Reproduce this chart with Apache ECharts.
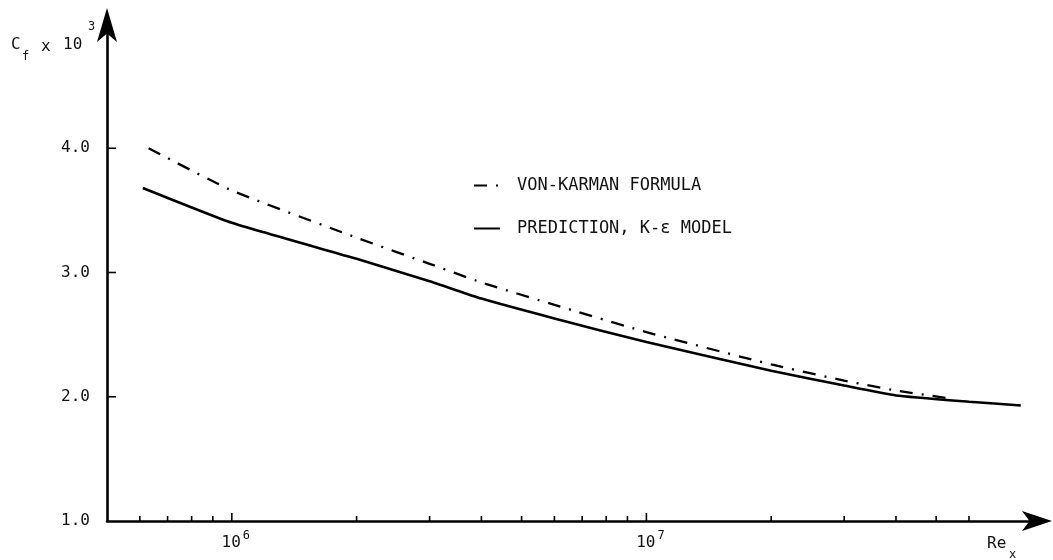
<!DOCTYPE html>
<html>
<head>
<meta charset="utf-8">
<script src="https://cdn.jsdelivr.net/npm/echarts@6/dist/echarts.min.js"></script>
<style>
html,body{margin:0;padding:0;background:#fff;}
#chart{width:1053px;height:560px;}
</style>
</head>
<body>
<div id="chart"></div>
<script>
// ---- data ----
const seriesNames = ['VON-KARMAN FORMULA', 'PREDICTION, K-\u03b5 MODEL'];
const reVonKarman = [6.3e5, 1e6, 2e6, 3e6, 4e6, 6e6, 1e7, 2e7, 3e7, 4e7, 5.3e7];
const cfVonKarman = [4.00, 3.66, 3.28, 3.07, 2.92, 2.74, 2.52, 2.26, 2.13, 2.05, 1.99];
const rePrediction = [6.1e5, 1e6, 2e6, 3e6, 4e6, 6e6, 1e7, 2e7, 3e7, 4e7, 6e7, 8e7];
const cfPrediction = [3.68, 3.40, 3.11, 2.93, 2.79, 2.63, 2.44, 2.21, 2.09, 2.01, 1.96, 1.93];
const xMajorTicks = [1e6, 1e7];
const xMinorTicks = [6e5, 7e5, 8e5, 9e5, 2e6, 3e6, 4e6, 5e6, 6e6, 7e6, 8e6, 9e6, 2e7, 3e7, 4e7, 5e7, 6e7];
const yTicks = [2.0, 3.0, 4.0];
const yLabelValues = [1.0, 2.0, 3.0, 4.0];
const xMin = 5e5, xMax = 9e7, yMin = 1, yMax = 5;

const FONT = 'DejaVu Sans Mono';
const INK = '#111';

const chart = echarts.init(document.getElementById('chart'));

function tickSeries(values, len, vertical) {
  return {
    type: 'custom',
    silent: true,
    clip: false,
    z: 5,
    data: values.map(v => [v]),
    renderItem: function (params, api) {
      const v = api.value(0);
      if (vertical) {
        const p = api.coord([v, yMin]);
        return {type: 'line', shape: {x1: p[0], y1: p[1], x2: p[0], y2: p[1] - len},
                style: {stroke: '#000', lineWidth: 1.6}};
      } else {
        const p = api.coord([xMin, v]);
        return {type: 'line', shape: {x1: p[0], y1: p[1], x2: p[0] + len, y2: p[1]},
                style: {stroke: '#000', lineWidth: 1.6}};
      }
    }
  };
}

const option = {
  backgroundColor: '#fff',
  animation: false,
  grid: {left: 107, right: 11, top: 24, bottom: 39},
  legend: {
    data: seriesNames,
    orient: 'vertical',
    left: 468,
    top: 172,
    itemWidth: 26,
    itemHeight: 14,
    itemGap: 26,
    itemStyle: {opacity: 0},
    textStyle: {fontFamily: FONT, fontSize: 17, color: INK, padding: [0, 0, 0, 12]}
  },
  xAxis: {
    type: 'log',
    logBase: 10,
    min: xMin,
    max: xMax,
    splitLine: {show: false},
    axisTick: {show: false},
    minorTick: {show: false},
    axisLine: {
      show: true,
      lineStyle: {color: '#000', width: 2.6},
      symbol: ['none', 'arrow'],
      symbolSize: [15, 30],
      symbolOffset: [0, 10]
    },
    axisLabel: {
      showMinLabel: false,
      showMaxLabel: false,
      margin: 9,
      formatter: function (v) {
        const k = Math.log10(v);
        if (Math.abs(k - Math.round(k)) < 1e-6) {
          return '{p|}{b|10}{s|' + Math.round(k) + '}';
        }
        return '';
      },
      rich: {
        p: {width: 8},
        b: {fontFamily: FONT, fontSize: 16, color: INK, verticalAlign: 'bottom', lineHeight: 18},
        s: {fontFamily: FONT, fontSize: 12, color: INK, verticalAlign: 'bottom', padding: [0, 0, 9, 2]}
      }
    }
  },
  yAxis: {
    type: 'value',
    min: yMin,
    max: yMax,
    interval: 1,
    splitLine: {show: false},
    axisTick: {show: false},
    axisLine: {
      show: true,
      lineStyle: {color: '#000', width: 2.6},
      symbol: ['none', 'arrow'],
      symbolSize: [15, 34],
      symbolOffset: [0, 16]
    },
    axisLabel: {
      margin: 17,
      fontFamily: FONT,
      fontSize: 16,
      color: INK,
      formatter: function (v) {
        return yLabelValues.some(t => Math.abs(t - v) < 1e-9) ? v.toFixed(1) : '';
      }
    }
  },
  series: [
    {
      name: seriesNames[0],
      type: 'line',
      data: reVonKarman.map((x, i) => [x, cfVonKarman[i]]),
      symbol: 'none',
      smooth: 0.15,
      lineStyle: {color: '#000', width: 2.3, type: [13, 9, 2, 9]},
      itemStyle: {color: '#000'}
    },
    {
      name: seriesNames[1],
      type: 'line',
      data: rePrediction.map((x, i) => [x, cfPrediction[i]]),
      symbol: 'none',
      smooth: 0.15,
      lineStyle: {color: '#000', width: 2.6, type: 'solid'},
      itemStyle: {color: '#000'}
    },
    tickSeries(xMajorTicks, 8, true),
    tickSeries(xMinorTicks, 5, true),
    tickSeries(yTicks, 9, false)
  ],
  graphic: [
    {type: 'text', left: 11, top: 37, style: {text: 'C', font: '16px ' + FONT, fill: INK}},
    {type: 'text', left: 22, top: 51, style: {text: 'f', font: '12px ' + FONT, fill: INK}},
    {type: 'text', left: 41, top: 39, style: {text: 'x', font: '16px ' + FONT, fill: INK}},
    {type: 'text', left: 63, top: 37, style: {text: '10', font: '16px ' + FONT, fill: INK}},
    {type: 'text', left: 88, top: 21, style: {text: '3', font: '12px ' + FONT, fill: INK}},
    {type: 'text', left: 987, top: 536, style: {text: 'Re', font: '16px ' + FONT, fill: INK}},
    {type: 'text', left: 1009, top: 549, style: {text: 'x', font: '12px ' + FONT, fill: INK}}
  ]
};
chart.setOption(option);
</script>
</body>
</html>
